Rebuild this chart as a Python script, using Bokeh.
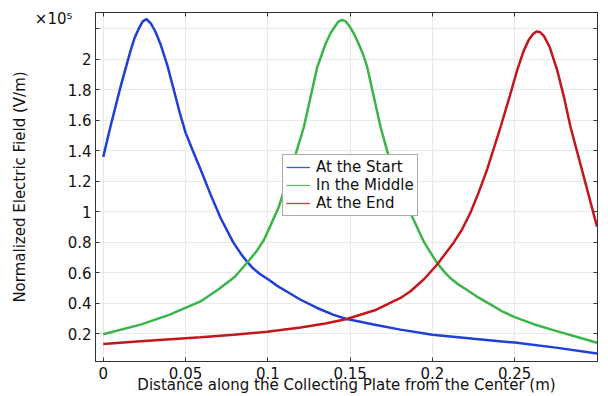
from bokeh.plotting import figure
from bokeh.models import Range1d, LinearAxis, FixedTicker, Legend, LegendItem
from bokeh.embed import file_html
from bokeh.resources import INLINE

# ---- data (values in units of 1e5 V/m) ----
start_x = [0.000, 0.0044, 0.0105, 0.0166, 0.0190, 0.0215, 0.0240, 0.0263, 0.0290, 0.0318,
           0.0348, 0.0390, 0.0429, 0.0465, 0.0500, 0.0545, 0.0591, 0.0650, 0.0713, 0.0790,
           0.0840, 0.0875, 0.0910, 0.0950, 0.1006, 0.1057, 0.1130, 0.1199, 0.1300, 0.1400,
           0.1480, 0.1650, 0.1806, 0.2000, 0.2250, 0.2500, 0.2750, 0.3000]
start_y = [1.361, 1.560, 1.820, 2.058, 2.140, 2.200, 2.250, 2.265, 2.235, 2.180,
           2.100, 1.960, 1.800, 1.650, 1.520, 1.400, 1.280, 1.120, 0.960, 0.800,
           0.720, 0.672, 0.630, 0.595, 0.555, 0.515, 0.468, 0.424, 0.370, 0.325,
           0.298, 0.260, 0.228, 0.195, 0.168, 0.143, 0.110, 0.071]

middle_x = [0.000, 0.0227, 0.0400, 0.0591, 0.0703, 0.0800, 0.0875, 0.0930, 0.0976, 0.1020,
            0.1067, 0.1110, 0.1158, 0.1219, 0.1300, 0.1350, 0.1380, 0.1407, 0.1430, 0.1452,
            0.1475, 0.1498, 0.1525, 0.1553, 0.1580, 0.1604, 0.1685, 0.1735, 0.1800, 0.1877,
            0.1950, 0.2029, 0.2070, 0.2110, 0.2150, 0.2201, 0.2270, 0.2350, 0.2420, 0.2500,
            0.2620, 0.2750, 0.2880, 0.3000]
middle_y = [0.198, 0.261, 0.325, 0.413, 0.494, 0.575, 0.668, 0.740, 0.816, 0.920,
            1.034, 1.180, 1.339, 1.557, 1.949, 2.100, 2.170, 2.215, 2.250, 2.259,
            2.248, 2.215, 2.165, 2.100, 2.030, 1.949, 1.557, 1.361, 1.170, 0.969,
            0.800, 0.664, 0.610, 0.565, 0.530, 0.494, 0.445, 0.395, 0.350, 0.310,
            0.262, 0.220, 0.180, 0.142]

end_x = [0.000, 0.0227, 0.0591, 0.0794, 0.0996, 0.1199, 0.1350, 0.1480, 0.1650, 0.1806,
         0.1867, 0.1950, 0.2029, 0.2130, 0.2180, 0.2231, 0.2280, 0.2333, 0.2414, 0.2470,
         0.2515, 0.2555, 0.2586, 0.2610, 0.2632, 0.2655, 0.2677, 0.2713, 0.2758, 0.2800,
         0.2839, 0.2920, 0.3000]
end_y = [0.133, 0.152, 0.178, 0.194, 0.214, 0.242, 0.268, 0.298, 0.355, 0.436,
         0.480, 0.560, 0.655, 0.800, 0.885, 0.995, 1.125, 1.280, 1.557, 1.760,
         1.930, 2.058, 2.130, 2.165, 2.184, 2.178, 2.155, 2.080, 1.930, 1.750,
         1.557, 1.230, 0.903]

series_names = ["At the Start", "In the Middle", "At the End"]
x_ticks = [0, 0.05, 0.1, 0.15, 0.2, 0.25, 0.3]
x_tick_labels = ["0", "0.05", "0.1", "0.15", "0.2", "0.25", ""]
y_ticks = [0.2, 0.4, 0.6, 0.8, 1.0, 1.2, 1.4, 1.6, 1.8, 2.0, 2.2]
y_tick_labels = ["0.2", "0.4", "0.6", "0.8", "1", "1.2", "1.4", "1.6", "1.8", "2", ""]
multiplier_text = "×10⁵"
multiplier_pos = 2.267

colors = ["#1f3fd6", "#3ab54a", "#c4161c"]
FONT = "DejaVu Sans"
AX = "#333333"
TXT = "#111111"

p = figure(width=608, height=396, output_backend="svg", toolbar_location=None,
           x_range=Range1d(-0.0047, 0.3003), y_range=Range1d(0.019, 2.308),
           min_border_left=95, min_border_right=11, min_border_top=12, min_border_bottom=34,
           x_axis_label="Distance along the Collecting Plate from the Center (m)")
p.background_fill_color = "white"
p.border_fill_color = "white"
p.outline_line_color = AX
p.outline_line_width = 1


def style_axis(ax, ticks, labels, show_labels=True):
    ax.ticker = FixedTicker(ticks=ticks)
    ax.major_label_overrides = {t: l for t, l in zip(ticks, labels)}
    ax.major_tick_in = 4
    ax.major_tick_out = 0
    ax.minor_tick_in = 0
    ax.minor_tick_out = 0
    ax.axis_line_color = AX
    ax.major_tick_line_color = AX
    ax.major_label_text_font = FONT
    ax.major_label_text_font_size = "15px"
    ax.major_label_text_color = TXT
    ax.axis_label_text_font = FONT
    ax.axis_label_text_font_size = "15px"
    ax.axis_label_text_font_style = "normal"
    ax.axis_label_text_color = TXT
    if not show_labels:
        ax.major_label_text_font_size = "0px"


style_axis(p.xaxis[0], x_ticks, x_tick_labels)
style_axis(p.yaxis[0], y_ticks, y_tick_labels)
p.xaxis[0].major_label_standoff = 5
p.xaxis[0].axis_label_standoff = -6
p.yaxis[0].major_label_standoff = 4
p.yaxis[0].axis_label = None

# outer left axis: carries the "×10^5" multiplier and the axis title
outer = LinearAxis(axis_label="Normalized Electric Field (V/m)")
style_axis(outer, [multiplier_pos], [multiplier_text])
outer.axis_line_color = None
outer.major_tick_line_color = None
outer.major_tick_in = 0
outer.major_label_standoff = -8
outer.axis_label_standoff = 3
p.add_layout(outer, "left")

top = LinearAxis()
style_axis(top, x_ticks, ["" for _ in x_ticks], show_labels=False)
top.major_label_standoff = 0
p.add_layout(top, "above")
right = LinearAxis()
style_axis(right, y_ticks, ["" for _ in y_ticks], show_labels=False)
right.major_label_standoff = 0
p.add_layout(right, "right")

p.xgrid.ticker = FixedTicker(ticks=x_ticks)
p.ygrid.ticker = FixedTicker(ticks=y_ticks)
p.grid.grid_line_color = "#e9e9e9"
p.grid.grid_line_width = 1

xs = [start_x, middle_x, end_x]
ys = [start_y, middle_y, end_y]
leg_items = []
for name, x, y, c in zip(series_names, xs, ys, colors):
    p.line(x=x, y=y, line_color=c, line_width=2.5)
    swatch = p.line(x=[x[0]], y=[y[0]], line_color=c, line_width=1.3, line_alpha=0.85)
    leg_items.append(LegendItem(label=name, renderers=[swatch]))

legend = Legend(items=leg_items, location=(187, 145),
                label_text_font=FONT, label_text_font_size="15px", label_text_color=TXT,
                glyph_width=24, glyph_height=16, label_height=16, label_standoff=6,
                spacing=0, padding=3, margin=0,
                border_line_color="#555555", border_line_width=1,
                background_fill_color="white", background_fill_alpha=1.0)
p.add_layout(legend, "center")

open("out.html", "w").write(file_html(p, INLINE))
